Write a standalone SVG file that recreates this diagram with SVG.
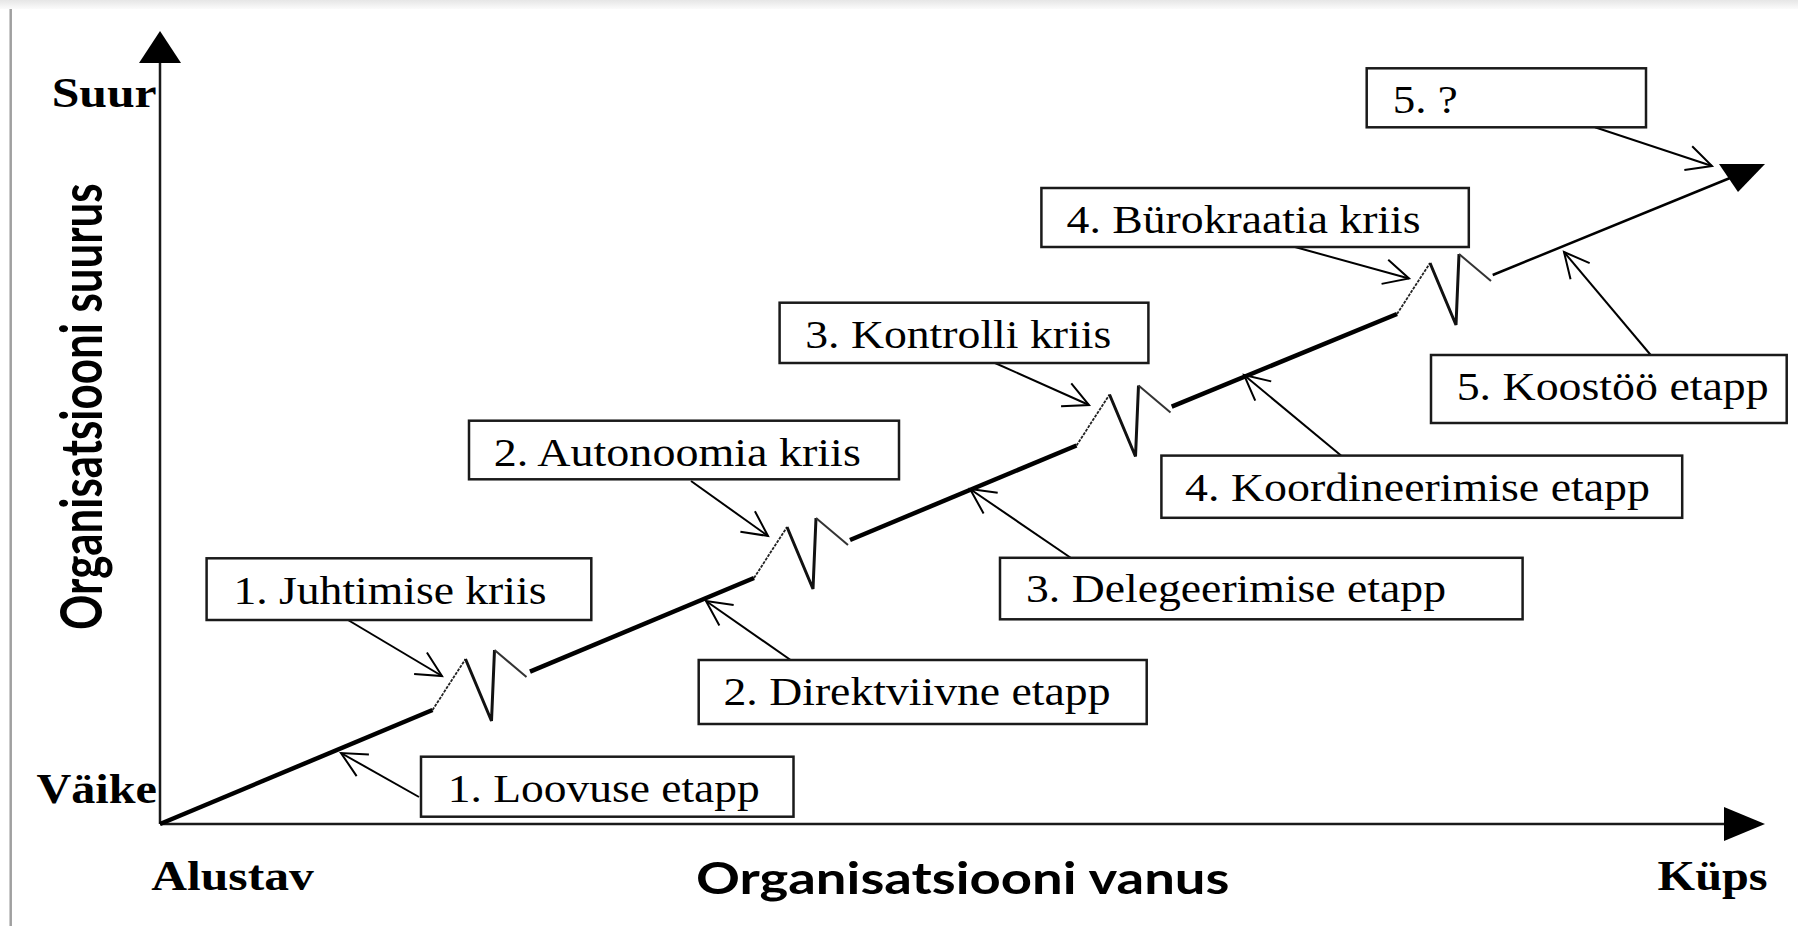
<svg xmlns="http://www.w3.org/2000/svg" width="1798" height="926" viewBox="0 0 1798 926">
<style>
.box{fill:#fff;stroke:#1a1a1a;stroke-width:2.5}
.bt{font-family:"Liberation Serif","Times New Roman",serif;font-size:40px;fill:#000}
.ax{font-family:"Liberation Serif","Times New Roman",serif;font-size:43px;font-weight:bold;fill:#000}
.ttl{font-family:Lato,"Open Sans",sans-serif;font-weight:bold;fill:#000}
.con{fill:none;stroke:#000;stroke-width:2;marker-end:url(#open)}
.thick{fill:none;stroke:#000;stroke-width:4.5;stroke-linecap:butt}
.thin{fill:none;stroke:#222;stroke-width:1.8;stroke-dasharray:3 1.2}
.zz{fill:none;stroke:#111;stroke-width:3;stroke-linejoin:miter}
.zt{fill:none;stroke:#333;stroke-width:2}
</style>
<defs>
<marker id="open" markerUnits="userSpaceOnUse" markerWidth="30" markerHeight="30" refX="0" refY="0" orient="auto" overflow="visible">
<path d="M-25,-12.5 L0,0 L-25,12.5" fill="none" stroke="#000" stroke-width="2"/>
</marker>
<linearGradient id="topg" x1="0" y1="0" x2="0" y2="1"><stop offset="0" stop-color="#e6e6e6"/><stop offset="1" stop-color="#fbfbfb"/></linearGradient>
</defs>
<rect x="0" y="0" width="1798" height="926" fill="#fff"/>
<rect x="0" y="0" width="1798" height="9" fill="url(#topg)"/>
<line x1="10.7" y1="9" x2="10.7" y2="926" stroke="#a0a0a0" stroke-width="2.5"/>

<g id="axes">
<line x1="160" y1="824" x2="160" y2="62" stroke="#1a1a1a" stroke-width="2.5"/>
<polygon points="160,31 139,63 181,63" fill="#000"/>
<line x1="160" y1="824" x2="1725" y2="824" stroke="#1a1a1a" stroke-width="2.5"/>
<polygon points="1765,824 1724,807 1724,841" fill="#000"/>
<text class="ax" x="51.7" y="106.7" textLength="105" lengthAdjust="spacingAndGlyphs">Suur</text>
<text class="ax" x="36.4" y="803.3" textLength="120.5" lengthAdjust="spacingAndGlyphs">Väike</text>
<text class="ax" x="151.2" y="890" textLength="162.6" lengthAdjust="spacingAndGlyphs">Alustav</text>
<text class="ax" x="1657.6" y="890" textLength="110" lengthAdjust="spacingAndGlyphs">Küps</text>
<text class="ttl" x="696" y="894" font-size="43.5" textLength="533.5" lengthAdjust="spacingAndGlyphs">Organisatsiooni vanus</text>
<text class="ttl" transform="translate(102,406.7) rotate(-90)" text-anchor="middle" font-size="57" textLength="446.7" lengthAdjust="spacingAndGlyphs">Organisatsiooni suurus</text>
</g>

<g id="growth-line">
<path class="thick" d="M160,824 L432.5,710"/>
<path class="thin" d="M432.5,710 L465.5,659"/>
<path class="zz" d="M465.5,659 L491.5,721 L494.5,650"/>
<path class="zt" d="M494.5,650 L526.5,677"/>
<path class="thick" d="M530,671.7 L754,578"/>
<path class="thin" d="M754,578 L787,527"/>
<path class="zz" d="M787,527 L813,589 L816,518"/>
<path class="zt" d="M816,518 L848,545"/>
<path class="thick" d="M850,540 L1076.5,445.5"/>
<path class="thin" d="M1076.5,445.5 L1109.5,394.5"/>
<path class="zz" d="M1109.5,394.5 L1135.5,456.5 L1138.5,385.5"/>
<path class="zt" d="M1138.5,385.5 L1170.5,412.5"/>
<path class="thick" d="M1171.7,406.7 L1397,314"/>
<path class="thin" d="M1397,314 L1430,263"/>
<path class="zz" d="M1430,263 L1456,325 L1459,254"/>
<path class="zt" d="M1459,254 L1491,281"/>
<path fill="none" stroke="#000" stroke-width="2.5" d="M1492.7,275 L1730,178"/>
<polygon points="1719,164 1765,164 1738,192" fill="#000"/>
</g>

<g id="connectors">
<path class="con" d="M348,620 L442,676"/>
<path class="con" d="M419,797 L341,753"/>
<path class="con" d="M691,481 L768,536"/>
<path class="con" d="M790.6,660 L706,601"/>
<path class="con" d="M995,363 L1089,405"/>
<path class="con" d="M1071,558 L970,489"/>
<path class="con" d="M1295,247 L1409,278.5"/>
<path class="con" d="M1341,455.6 L1244,375"/>
<path class="con" d="M1650.7,355 L1564,252"/>
<path class="con" d="M1595,127.3 L1712,166"/>
</g>

<g id="n-juhtimise-kriis"><rect class="box" x="206.6" y="558.3" width="384.7" height="61.7"/><text class="bt" x="233.4" y="604" textLength="313" lengthAdjust="spacingAndGlyphs">1. Juhtimise kriis</text></g>
<g id="n-loovuse-etapp"><rect class="box" x="421" y="756.7" width="372.5" height="60"/><text class="bt" x="447.8" y="801.7" textLength="312" lengthAdjust="spacingAndGlyphs">1. Loovuse etapp</text></g>
<g id="n-autonoomia-kriis"><rect class="box" x="469" y="420.7" width="430" height="58.6"/><text class="bt" x="493.8" y="466" textLength="367" lengthAdjust="spacingAndGlyphs">2. Autonoomia kriis</text></g>
<g id="n-direktviivne-etapp"><rect class="box" x="698.7" y="660" width="448" height="64"/><text class="bt" x="723.5" y="705" textLength="387" lengthAdjust="spacingAndGlyphs">2. Direktviivne etapp</text></g>
<g id="n-kontrolli-kriis"><rect class="box" x="779.6" y="302.7" width="368.8" height="60.3"/><text class="bt" x="805.2" y="348.3" textLength="306" lengthAdjust="spacingAndGlyphs">3. Kontrolli kriis</text></g>
<g id="n-delegeerimise-etapp"><rect class="box" x="1000" y="557.8" width="522.6" height="61.5"/><text class="bt" x="1026" y="601.7" textLength="420" lengthAdjust="spacingAndGlyphs">3. Delegeerimise etapp</text></g>
<g id="n-burokraatia-kriis"><rect class="box" x="1041.4" y="188" width="427.4" height="59"/><text class="bt" x="1066.6" y="232.7" textLength="354" lengthAdjust="spacingAndGlyphs">4. Bürokraatia kriis</text></g>
<g id="n-koordineerimise-etapp"><rect class="box" x="1161.4" y="455.6" width="520.8" height="62.2"/><text class="bt" x="1185" y="501" textLength="465" lengthAdjust="spacingAndGlyphs">4. Koordineerimise etapp</text></g>
<g id="n-koostoo-etapp"><rect class="box" x="1431" y="355" width="355.7" height="68"/><text class="bt" x="1456.7" y="400" textLength="312" lengthAdjust="spacingAndGlyphs">5. Koostöö etapp</text></g>
<g id="n-5"><rect class="box" x="1366.7" y="68.3" width="279.3" height="59"/><text class="bt" x="1392.7" y="112.7" textLength="65" lengthAdjust="spacingAndGlyphs">5. ?</text></g>
</svg>
